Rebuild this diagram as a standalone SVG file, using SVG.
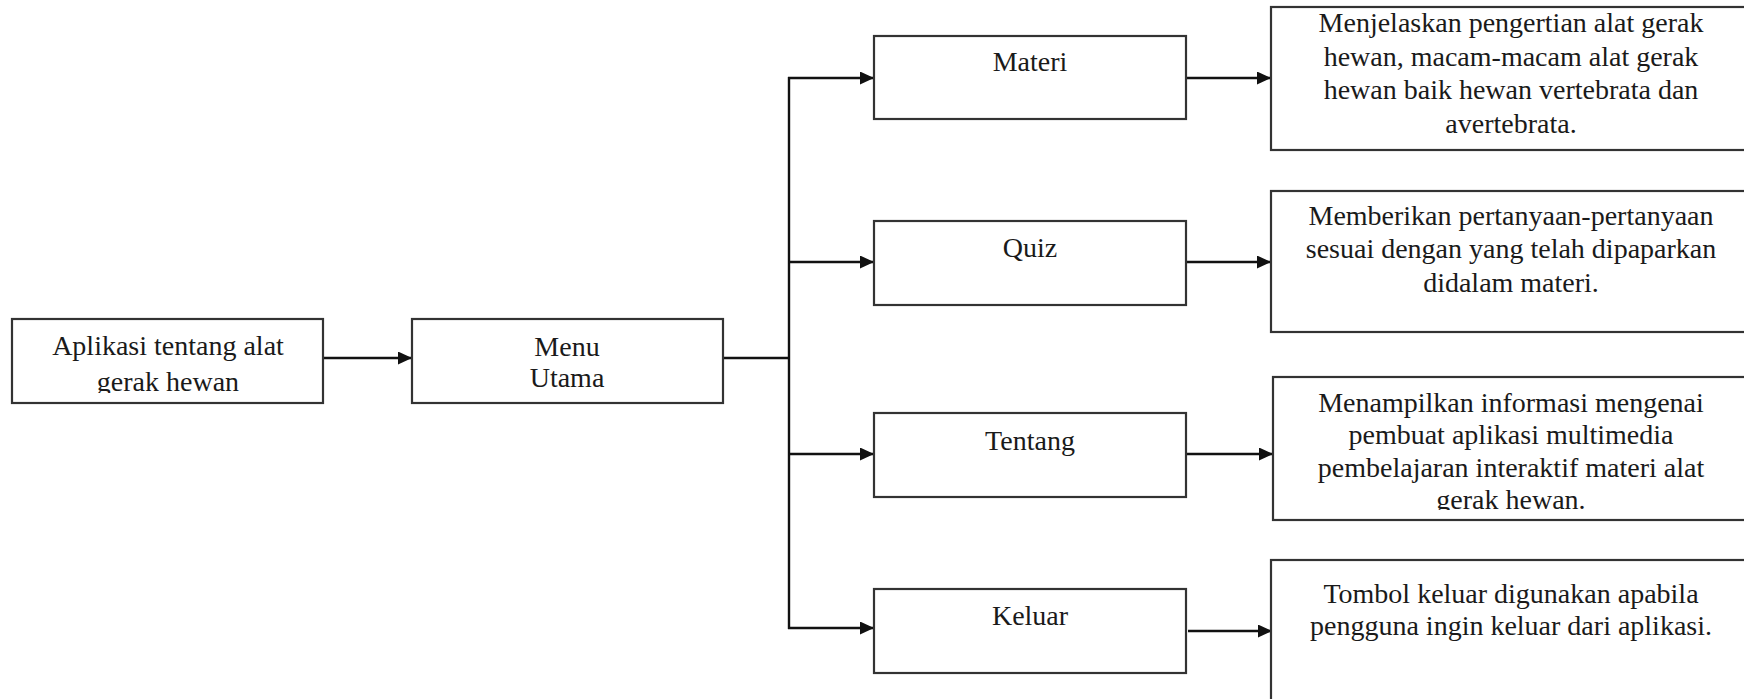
<svg xmlns="http://www.w3.org/2000/svg" width="1744" height="699" viewBox="0 0 1744 699">
  <style>
    .box { fill: #ffffff; stroke: #333333; stroke-width: 2.2; }
    .lbl { font-family: "Liberation Serif", "Times New Roman", serif; font-size: 28px; fill: #1a1a1a; text-anchor: middle; }
    .conn { stroke: #111111; stroke-width: 2.4; fill: none; }
  </style>
  <defs>
    <marker id="arrow" markerUnits="userSpaceOnUse" markerWidth="15" markerHeight="14" refX="14" refY="6.5" orient="auto">
      <path d="M0,0 L14,6.5 L0,13 Z" fill="#111111"/>
    </marker>
    <clipPath id="clip-app"><rect x="12" y="319" width="311" height="74"/></clipPath>
    <clipPath id="clip-tentang"><rect x="1272" y="377" width="480" height="133"/></clipPath>
  </defs>
  <rect width="1744" height="699" fill="#ffffff"/>

  <g id="connectors">
    <line class="conn" x1="323" y1="358" x2="412" y2="358" marker-end="url(#arrow)"/>
    <line class="conn" x1="723" y1="358" x2="789" y2="358"/>
    <line class="conn" x1="789" y1="77" x2="789" y2="629"/>
    <line class="conn" x1="788" y1="78" x2="874" y2="78" marker-end="url(#arrow)"/>
    <line class="conn" x1="788" y1="262" x2="874" y2="262" marker-end="url(#arrow)"/>
    <line class="conn" x1="788" y1="454" x2="874" y2="454" marker-end="url(#arrow)"/>
    <line class="conn" x1="788" y1="628" x2="874" y2="628" marker-end="url(#arrow)"/>
    <line class="conn" x1="1186" y1="78" x2="1271" y2="78" marker-end="url(#arrow)"/>
    <line class="conn" x1="1186" y1="262" x2="1271" y2="262" marker-end="url(#arrow)"/>
    <line class="conn" x1="1186" y1="454" x2="1273" y2="454" marker-end="url(#arrow)"/>
    <line class="conn" x1="1188" y1="631" x2="1272" y2="631" marker-end="url(#arrow)"/>
  </g>

  <g id="node-aplikasi">
    <rect class="box" x="12" y="319" width="311" height="84"/>
    <g clip-path="url(#clip-app)">
      <text class="lbl" x="168" y="355">Aplikasi tentang alat</text>
      <text class="lbl" x="168" y="391">gerak hewan</text>
    </g>
  </g>

  <g id="node-menu">
    <rect class="box" x="412" y="319" width="311" height="84"/>
    <text class="lbl" x="567" y="356">Menu</text>
    <text class="lbl" x="567" y="387">Utama</text>
  </g>

  <g id="node-materi">
    <rect class="box" x="874" y="36" width="312" height="83"/>
    <text class="lbl" x="1030" y="71">Materi</text>
  </g>

  <g id="node-quiz">
    <rect class="box" x="874" y="221" width="312" height="84"/>
    <text class="lbl" x="1030" y="257">Quiz</text>
  </g>

  <g id="node-tentang">
    <rect class="box" x="874" y="413" width="312" height="84"/>
    <text class="lbl" x="1030" y="450">Tentang</text>
  </g>

  <g id="node-keluar">
    <rect class="box" x="874" y="589" width="312" height="84"/>
    <text class="lbl" x="1030" y="625">Keluar</text>
  </g>

  <g id="desc-materi">
    <rect class="box" x="1271" y="7" width="490" height="143"/>
    <text class="lbl" x="1511" y="32">Menjelaskan pengertian alat gerak</text>
    <text class="lbl" x="1511" y="66">hewan, macam-macam alat gerak</text>
    <text class="lbl" x="1511" y="99">hewan baik hewan vertebrata dan</text>
    <text class="lbl" x="1511" y="133">avertebrata.</text>
  </g>

  <g id="desc-quiz">
    <rect class="box" x="1271" y="191" width="490" height="141"/>
    <text class="lbl" x="1511" y="225">Memberikan pertanyaan-pertanyaan</text>
    <text class="lbl" x="1511" y="258">sesuai dengan yang telah dipaparkan</text>
    <text class="lbl" x="1511" y="292">didalam materi.</text>
  </g>

  <g id="desc-tentang">
    <rect class="box" x="1273" y="377" width="490" height="143"/>
    <g clip-path="url(#clip-tentang)">
      <text class="lbl" x="1511" y="412">Menampilkan informasi mengenai</text>
      <text class="lbl" x="1511" y="444">pembuat aplikasi multimedia</text>
      <text class="lbl" x="1511" y="477">pembelajaran interaktif materi alat</text>
      <text class="lbl" x="1511" y="509">gerak hewan.</text>
    </g>
  </g>

  <g id="desc-keluar">
    <rect class="box" x="1271" y="560" width="490" height="160"/>
    <text class="lbl" x="1511" y="603">Tombol keluar digunakan apabila</text>
    <text class="lbl" x="1511" y="635">pengguna ingin keluar dari aplikasi.</text>
  </g>
</svg>
